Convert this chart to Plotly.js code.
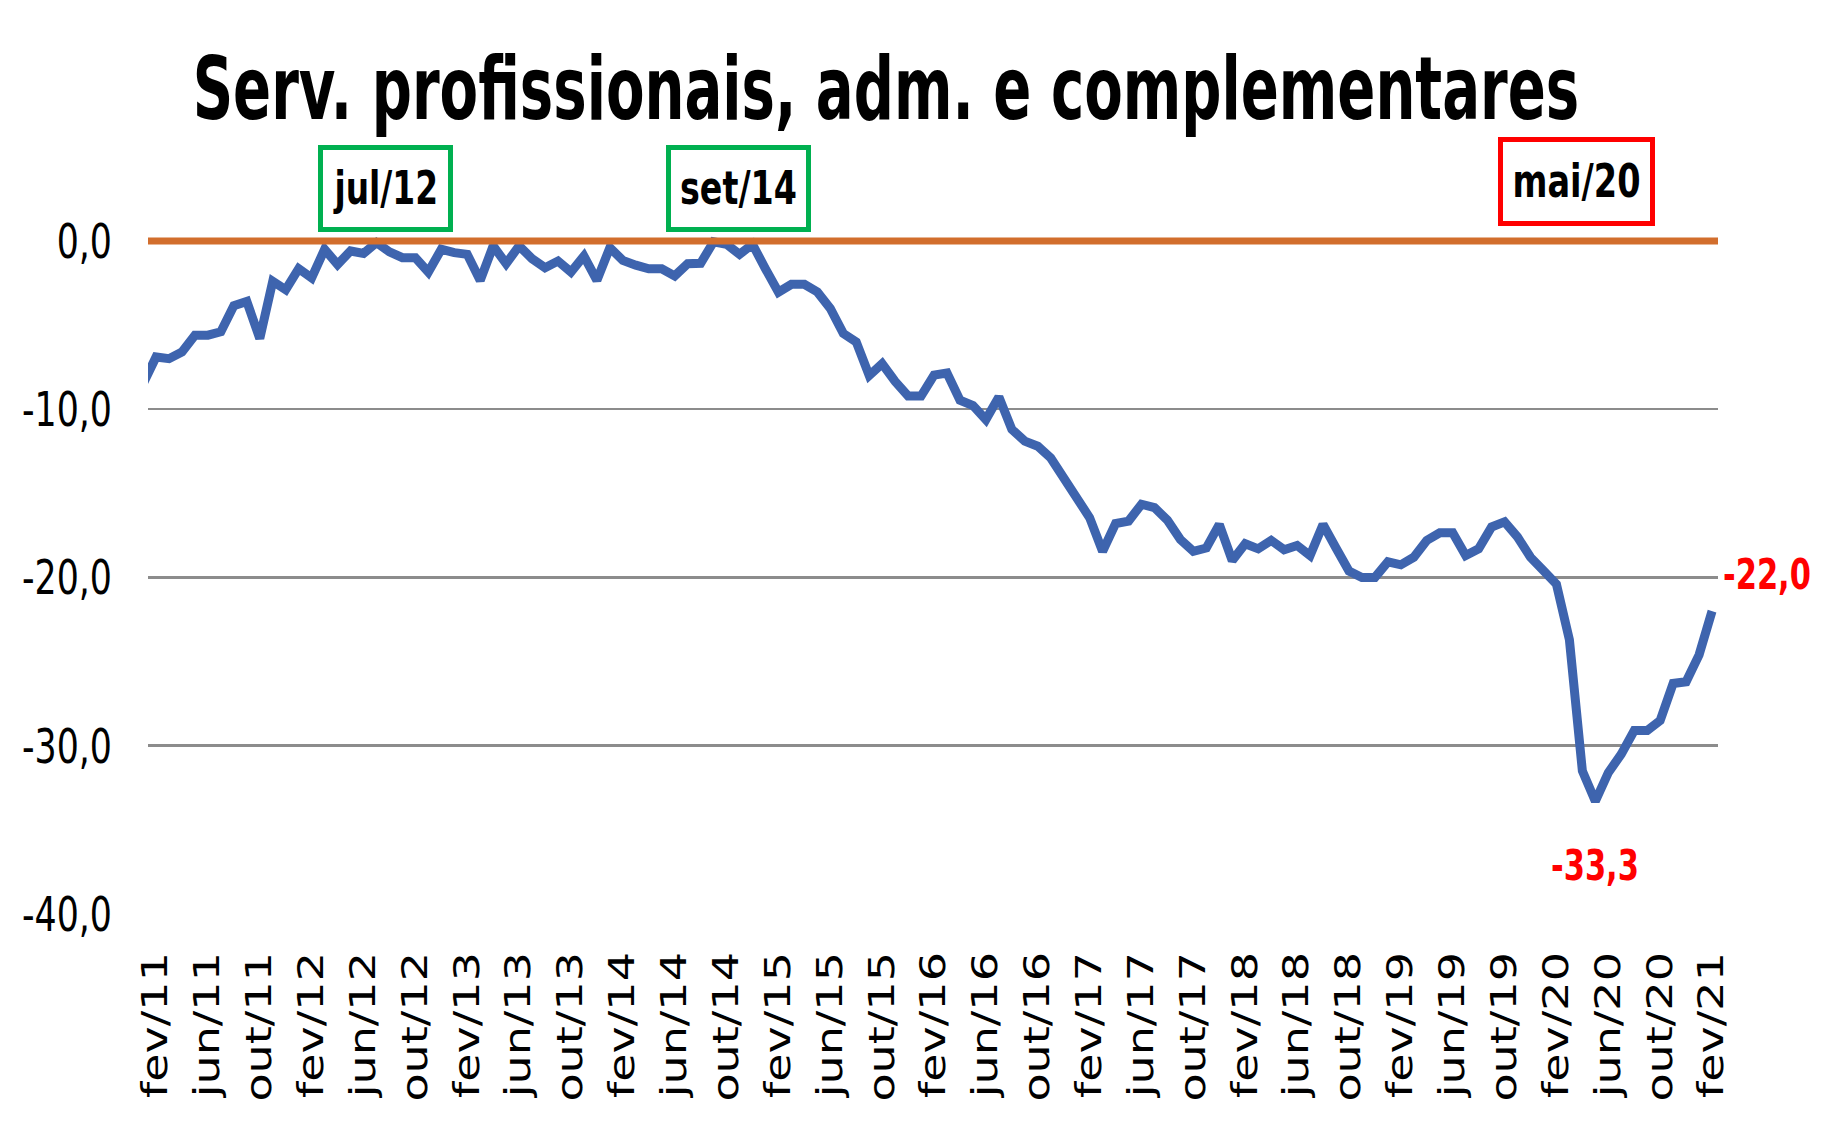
<!DOCTYPE html>
<html>
<head>
<meta charset="utf-8">
<script src="https://cdn.plot.ly/plotly-3.0.1.min.js"></script>
<style>
  html, body { margin: 0; padding: 0; background: #ffffff; }
  #chart { width: 1832px; height: 1142px; }
</style>
</head>
<body>
<div id="chart"></div>
<script>
// Monthly categories (jan/11 lies just outside the visible axis range)
const months = [
  "jan/11","fev/11","mar/11","abr/11","mai/11","jun/11","jul/11","ago/11","set/11","out/11","nov/11","dez/11",
  "jan/12","fev/12","mar/12","abr/12","mai/12","jun/12","jul/12","ago/12","set/12","out/12","nov/12","dez/12",
  "jan/13","fev/13","mar/13","abr/13","mai/13","jun/13","jul/13","ago/13","set/13","out/13","nov/13","dez/13",
  "jan/14","fev/14","mar/14","abr/14","mai/14","jun/14","jul/14","ago/14","set/14","out/14","nov/14","dez/14",
  "jan/15","fev/15","mar/15","abr/15","mai/15","jun/15","jul/15","ago/15","set/15","out/15","nov/15","dez/15",
  "jan/16","fev/16","mar/16","abr/16","mai/16","jun/16","jul/16","ago/16","set/16","out/16","nov/16","dez/16",
  "jan/17","fev/17","mar/17","abr/17","mai/17","jun/17","jul/17","ago/17","set/17","out/17","nov/17","dez/17",
  "jan/18","fev/18","mar/18","abr/18","mai/18","jun/18","jul/18","ago/18","set/18","out/18","nov/18","dez/18",
  "jan/19","fev/19","mar/19","abr/19","mai/19","jun/19","jul/19","ago/19","set/19","out/19","nov/19","dez/19",
  "jan/20","fev/20","mar/20","abr/20","mai/20","jun/20","jul/20","ago/20","set/20","out/20","nov/20","dez/20",
  "jan/21","fev/21"
];

// Series values (distance from the peak, %)
const values = [
  -8.5,
  -6.9, -7.0, -6.6, -5.6, -5.6, -5.4, -3.85, -3.6, -5.8, -2.4, -2.9, -1.65,
  -2.2, -0.5, -1.4, -0.6, -0.75, -0.1, -0.65, -1.0, -1.0, -1.85, -0.5, -0.7,
  -0.8, -2.35, -0.3, -1.35, -0.3, -1.06, -1.6, -1.2, -1.85, -0.9, -2.35, -0.4,
  -1.16, -1.44, -1.66, -1.66, -2.08, -1.36, -1.33, -0.05, -0.2, -0.8, -0.2, -1.66,
  -3.05, -2.58, -2.58, -3.03, -4.02, -5.5, -6.0, -8.0, -7.3, -8.35, -9.22, -9.22,
  -7.98, -7.85, -9.47, -9.78, -10.62, -9.27, -11.2, -11.9, -12.2, -12.9, -14.1, -15.08,
  -16.45, -18.45, -16.8, -16.65, -15.65, -15.85, -16.6, -17.75, -18.45, -18.25, -16.85, -19.0,
  -18.0, -18.3, -17.8, -18.35, -18.1, -18.7, -16.85, -18.25, -19.62, -20.0, -20.0, -19.07,
  -19.25, -18.8, -17.8, -17.35, -17.35, -18.7, -18.3, -17.0, -16.7, -17.6, -18.8, -19.6,
  -20.4, -23.7, -31.5, -33.3, -31.6, -30.5, -29.1, -29.1, -28.5, -26.3, -26.2, -24.6,
  -22.0
];

// Axis tick labels
const xTickLabels = [
  "fev/11","jun/11","out/11","fev/12","jun/12","out/12","fev/13","jun/13","out/13",
  "fev/14","jun/14","out/14","fev/15","jun/15","out/15","fev/16","jun/16","out/16",
  "fev/17","jun/17","out/17","fev/18","jun/18","out/18","fev/19","jun/19","out/19",
  "fev/20","jun/20","out/20","fev/21"
];
const yTickValues = [0, -10, -20, -30, -40];
const yTickLabels = ["0,0", "-10,0", "-20,0", "-30,0", "-40,0"];

// Highlighted months (boxes above the chart)
const highlightLabels = ["jul/12", "set/14", "mai/20"];

const xIdx = months.map((_, i) => i);
const xTickVals = xTickLabels.map(l => months.indexOf(l));

const fmt = v => v.toFixed(1).replace('.', ',');
let minI = 0;
values.forEach((v, i) => { if (v < values[minI]) minI = i; });
const lastI = values.length - 1;

const FONT = "'DejaVu Sans', sans-serif";

const trace = {
  type: 'scatter',
  mode: 'lines',
  x: xIdx,
  y: values,
  line: { color: '#3E64AE', width: 9 },
  hoverinfo: 'skip'
};

const boxStyle = [
  { x: 0.151, y: 1.0686, border: '#00B050', w: 125, h: 77 },
  { x: 0.3764, y: 1.0686, border: '#00B050', w: 135, h: 77 },
  { x: 0.9096, y: 1.0789, border: '#FF0000', w: 147, h: 79 }
];

const annotations = highlightLabels.map((t, i) => ({
  xref: 'paper', yref: 'paper',
  x: boxStyle[i].x, y: boxStyle[i].y,
  xanchor: 'center', yanchor: 'middle',
  text: t, showarrow: false,
  font: { family: FONT, size: 46, color: '#000000', weight: 700 },
  bordercolor: boxStyle[i].border, borderwidth: 5, borderpad: 0,
  bgcolor: '#ffffff', width: boxStyle[i].w, height: boxStyle[i].h
}));

annotations.push({
  xref: 'x', yref: 'y', x: xIdx[minI], y: values[minI],
  text: fmt(values[minI]), showarrow: false,
  xanchor: 'center', yanchor: 'middle', xshift: 0, yshift: -64,
  font: { family: FONT, size: 43, color: '#FF0000', weight: 700 }
});
annotations.push({
  xref: 'x', yref: 'y', x: xIdx[lastI], y: values[lastI],
  text: fmt(values[lastI]), showarrow: false,
  xanchor: 'center', yanchor: 'middle', xshift: 55, yshift: 37,
  font: { family: FONT, size: 43, color: '#FF0000', weight: 700 }
});

const layout = {
  width: 1832, height: 1142,
  paper_bgcolor: '#ffffff', plot_bgcolor: '#ffffff',
  margin: { l: 148, r: 114, t: 235, b: 228, pad: 0 },
  showlegend: false,
  title: {
    text: 'Serv. profissionais, adm. e complementares',
    font: { family: FONT, size: 88, color: '#000000', weight: 700 },
    xref: 'container', x: 0.4836, xanchor: 'center',
    yref: 'container', y: 0.923, yanchor: 'middle'
  },
  xaxis: {
    type: 'linear',
    range: [0.38, 121.46],
    tickvals: xTickVals,
    ticktext: xTickLabels,
    tickangle: -90,
    tickfont: { family: FONT, size: 35, color: '#000000' },
    ticks: '', showgrid: false, zeroline: false, showline: false,
    ticklabelstandoff: 30
  },
  yaxis: {
    range: [-40, 0.35],
    tickvals: yTickValues,
    ticktext: yTickLabels,
    tickfont: { family: FONT, size: 48, color: '#000000' },
    ticks: '', showgrid: true, gridcolor: '#8C8C8C', gridwidth: 2.5,
    zeroline: false, showline: false,
    ticklabelstandoff: 35
  },
  shapes: [{
    type: 'line', xref: 'paper', x0: 0, x1: 1, yref: 'y', y0: 0, y1: 0,
    line: { color: '#D26E2D', width: 7 }, layer: 'above'
  }],
  annotations: annotations
};

// The reference's typeface is narrow and tall: rescale texts along their own baseline.
function squeeze(el, s, anchor) {
  const b = el.getBBox();
  const cx = anchor === 'end' ? b.x + b.width : (anchor === 'start' ? b.x : b.x + b.width / 2);
  const prev = el.getAttribute('transform') || '';
  el.setAttribute('transform', (prev + ' translate(' + cx + ',0) scale(' + s + ',1) translate(' + (-cx) + ',0)').trim());
}

Plotly.newPlot('chart', [trace], layout, { staticPlot: true, displayModeBar: false }).then(gd => {
  // title: target width ~1387 px
  const t = gd.querySelector('.gtitle');
  if (t) squeeze(t, 1387 / t.getBBox().width, 'middle');
  // y tick labels: "-40,0" ~ 90 px wide
  const yt = Array.from(gd.querySelectorAll('.ytick text'));
  if (yt.length) {
    const w = Math.max(...yt.map(e => e.getBBox().width));
    yt.forEach(e => squeeze(e, 90 / w, 'end'));
  }
  // x tick labels (rotated): "fev/11" ~ 146 px long
  const xt = Array.from(gd.querySelectorAll('.xtick text'));
  if (xt.length) {
    const w = xt[0].getBBox().width;
    xt.forEach(e => squeeze(e, 146 / w, 'end'));
  }
  // annotation texts: drop the box clipping, then narrow the text
  gd.querySelectorAll('.annotation [clip-path]').forEach(e => e.removeAttribute('clip-path'));
  const at = Array.from(gd.querySelectorAll('.annotation-text'));
  at.forEach(e => {
    const txt = e.textContent;
    const target = txt === 'jul/12' ? 105 : txt === 'set/14' ? 117 : txt === 'mai/20' ? 128 : 88;
    squeeze(e, target / e.getBBox().width, 'middle');
  });
});
</script>
</body>
</html>
